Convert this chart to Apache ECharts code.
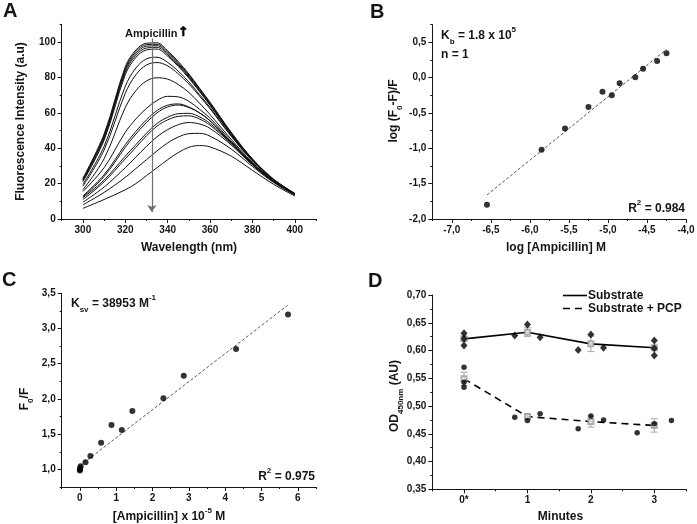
<!DOCTYPE html>
<html><head><meta charset="utf-8">
<script src="https://cdn.jsdelivr.net/npm/echarts@6/dist/echarts.min.js"></script>
<style>html,body{margin:0;padding:0;background:#fff}#c{width:697px;height:524px}</style>
</head><body><div id="c"></div>
<script>
// ---------- Panel A : fluorescence spectra ----------
const aWavelengths = [300,310,320,325,330,335,340,345,350,355,360,370,380,390,400];
const aSpectrum1  = [23,48,86,95.5,99.3,99.5,95,89,82,74,66,49,34,22.5,14.5];
const aSpectrum2  = [22.5,47,85,94.6,98.5,98.7,94.3,88.3,81.4,73.5,65.5,48.6,33.8,22.4,14.4];
const aSpectrum3  = [22,46.5,84,93.6,97.6,97.9,93.6,87.6,80.8,73,65,48.2,33.6,22.3,14.3];
const aSpectrum4  = [21.5,45.5,83,92.5,96.6,97,92.8,86.9,80.2,72.5,64.6,47.9,33.4,22.2,14.2];
const aSpectrum5  = [21,44.5,81.5,91.3,95.5,96,92,86.2,79.6,72,64.2,47.6,33.2,22.1,14.1];
const aSpectrum6  = [19.5,41,75,85.3,90.5,91.4,88.5,83.5,77.5,70.3,63,47,33,22,14.1];
const aSpectrum7  = [18.5,39,71,81.5,87,88.4,86.5,82,76.3,69.5,62.3,46.7,32.8,22,14.1];
const aSpectrum8  = [16.5,34,63,72.5,78,79.8,79,76,71.5,65.5,59,45,32,21.7,14];
const aSpectrum9  = [15.5,29,49,56.5,62.5,67,69.3,69,66.5,62,57,44,31.5,21.5,14.2];
const aSpectrum10 = [13,25,42,49.5,56,61.3,64.3,65,63.3,60,55.5,43.3,31.2,21.3,14];
const aSpectrum11 = [12.5,24,40.5,48,54.5,60,63.3,64.4,63,60,55.5,43.3,31.2,21.3,14];
const aSpectrum12 = [12,22,35.5,42,48.5,54,57.5,59.5,59.7,57.7,54,43,31,21.3,14];
const aSpectrum13 = [11,21,34,40.5,47,52.5,56,58,58.3,56.5,53,42.5,30.8,21.2,14];
const aSpectrum14 = [9.5,18,29,35,41,46.5,50.5,53.3,54.5,53.7,51.2,41.8,30.5,21,13.8];
const aSpectrum15 = [8,15,23.5,28.5,33.5,38.5,43,46.3,48.2,48.4,46.8,39.5,29.7,20.6,13.5];
const aSpectrum16 = [6,11,16.5,20,24.5,29,33.5,37.5,40.5,41.5,40.7,35.5,27.5,19.6,13];
const aSpectra = [aSpectrum1,aSpectrum2,aSpectrum3,aSpectrum4,aSpectrum5,aSpectrum6,aSpectrum7,aSpectrum8,
                  aSpectrum9,aSpectrum10,aSpectrum11,aSpectrum12,aSpectrum13,aSpectrum14,aSpectrum15,aSpectrum16];
const aArrowFrom = [332.5, 102];
const aArrowTo = [332.5, 4];
const aXTicks = [300,320,340,360,380,400];
const aXMinor = [290,310,330,350,370,390,410];
const aYTicks = [0,20,40,60,80,100];
const aYMinor = [10,30,50,70,90,110];

// ---------- Panel B : double log plot ----------
const bLogConc  = [-6.55,-5.85,-5.55,-5.25,-5.07,-4.95,-4.85,-4.65,-4.55,-4.37,-4.25];
const bLogRatio = [-1.80,-1.02,-0.72,-0.415,-0.20,-0.25,-0.08,0.005,0.125,0.235,0.345];
const bFitX = [-6.55,-4.25];
const bFitY = [-1.66,0.40];
const bXTicks = [-7,-6.5,-6,-5.5,-5,-4.5,-4];
const bXMinor = [-7.25,-6.75,-6.25,-5.75,-5.25,-4.75,-4.25];
const bYTicks = [-2,-1.5,-1,-0.5,0,0.5];
const bYMinor = [-1.75,-1.25,-0.75,-0.25,0.25,0.75];

// ---------- Panel C : Stern-Volmer ----------
const cConc  = [0,0.005,0.01,0.02,0.155,0.29,0.585,0.87,1.155,1.445,2.30,2.86,4.30,5.73];
const cRatio = [0.985,1.0,1.02,1.045,1.10,1.19,1.38,1.63,1.56,1.83,2.01,2.33,2.71,3.20];
const cFitX = [0,5.72];
const cFitY = [1.05,3.33];
const cXTicks = [0,1,2,3,4,5,6];
const cXMinor = [-0.5,0.5,1.5,2.5,3.5,4.5,5.5,6.5];
const cYTicks = [1,1.5,2,2.5,3,3.5];
const cYMinor = [0.75,1.25,1.75,2.25,2.75,3.25];

// ---------- Panel D : OD450 vs time ----------
const dSubX = [0,0,0,0.8,1,1.2,1.8,2,2.2,3,3,3];
const dSubY = [0.631,0.621,0.609,0.627,0.647,0.624,0.601,0.629,0.605,0.618,0.604,0.591];
const dPcpX = [0,0,0,0.8,1,1.2,1.8,2,2.2,2.73,3,3.27];
const dPcpY = [0.570,0.543,0.534,0.480,0.474,0.486,0.459,0.482,0.475,0.452,0.468,0.474];
const dMeanX = [0,1,2,3];
const dSubMean = [0.621,0.633,0.612,0.605];
const dSubErr = [0.004,0.008,0.014,0.004];
const dPcpMean = [0.549,0.481,0.472,0.465];
const dPcpErr = [0.012,0.005,0.010,0.012];
const dXTicks = [0,1,2,3];
const dXLabels = ['0*','1','2','3'];
const dXMinor = [-0.5,0.5,1.5,2.5,3.5];
const dYTicks = [0.35,0.40,0.45,0.50,0.55,0.60,0.65,0.70];
const dYMinor = [0.375,0.425,0.475,0.525,0.575,0.625,0.675];

// ---------- styling helpers ----------
const FONT = '"Liberation Sans", Arial, Helvetica, sans-serif';
const INK = '#151515';
const comma1 = v => (Math.round(v*10)/10).toFixed(1).replace('.', ',');
const comma2 = v => (Math.round(v*100)/100).toFixed(2).replace('.', ',');
const plain = v => String(v);

function axisPair(kind, gi, min, max, major, minor, fmt) {
  const pos = kind === 'x' ? 'bottom' : 'left';
  return [
    { type:'value', gridIndex:gi, position:pos, min, max,
      axisLine:{show:true, onZero:false, lineStyle:{color:INK, width:1}},
      axisTick:{show:true, customValues:major, length:4, lineStyle:{color:INK, width:1}},
      axisLabel:{show:true, customValues:major, formatter:fmt, fontSize:10, fontWeight:'bold',
                 color:INK, fontFamily:FONT, margin:6},
      splitLine:{show:false}, splitArea:{show:false} },
    { type:'value', gridIndex:gi, position:pos, min, max,
      axisLine:{show:false, onZero:false},
      axisTick:{show:true, customValues:minor, length:2, lineStyle:{color:INK, width:1}},
      axisLabel:{show:false}, splitLine:{show:false} }
  ];
}

const xAxes = [].concat(
  axisPair('x',0,290,410,aXTicks,aXMinor,plain),
  axisPair('x',1,-7.25,-4,bXTicks,bXMinor,comma1),
  axisPair('x',2,-0.5,6.5,cXTicks,cXMinor,plain),
  axisPair('x',3,-0.5,3.5,dXTicks,dXMinor,v => dXLabels[dXTicks.indexOf(v)])
);
const yAxes = [].concat(
  axisPair('y',0,0,110,aYTicks,aYMinor,plain),
  axisPair('y',1,-2,0.75,bYTicks,bYMinor,comma1),
  axisPair('y',2,0.75,3.5,cYTicks,cYMinor,comma1),
  axisPair('y',3,0.35,0.70,dYTicks,dYMinor,comma2)
);

const series = [];
// A spectra
aSpectra.forEach((s, i) => {
  const ser = { type:'line', xAxisIndex:0, yAxisIndex:0, silent:true, symbol:'none', smooth:0.35,
    lineStyle:{color:'#111', width:1}, data: aWavelengths.map((w, j) => [w, s[j]]), z:3 };
  if (i === 0) {
    ser.markLine = { silent:true, symbol:['none','arrow'], symbolSize:7, animation:false,
      lineStyle:{color:'#6e6e6e', width:1.2, type:'solid'}, label:{show:false},
      itemStyle:{color:'#6e6e6e'},
      data:[[{coord:aArrowFrom},{coord:aArrowTo}]] };
  }
  series.push(ser);
});
// B
series.push({ type:'line', xAxisIndex:2, yAxisIndex:2, symbol:'none', silent:true,
  lineStyle:{color:'#444', width:0.9, type:[3,2]}, data: bFitX.map((x,i)=>[x,bFitY[i]]) });
series.push({ type:'scatter', xAxisIndex:2, yAxisIndex:2, symbolSize:6, itemStyle:{color:'#000'},
  data: bLogConc.map((x,i)=>[x,bLogRatio[i]]), z:5 });
// C
series.push({ type:'line', xAxisIndex:4, yAxisIndex:4, symbol:'none', silent:true,
  lineStyle:{color:'#444', width:0.9, type:[3,2]}, data: cFitX.map((x,i)=>[x,cFitY[i]]) });
series.push({ type:'scatter', xAxisIndex:4, yAxisIndex:4, symbolSize:6, itemStyle:{color:'#000'},
  data: cConc.map((x,i)=>[x,cRatio[i]]), z:5 });
// D error bars
function errSeries(means, errs) {
  return { type:'custom', xAxisIndex:6, yAxisIndex:6, silent:true, z:2,
    data: dMeanX.map((x,i)=>[x, means[i], errs[i]]),
    encode:{x:0, y:1},
    renderItem:(params, api) => {
      const x = api.value(0), m = api.value(1), e = api.value(2);
      const t = api.coord([x, m + e]), b = api.coord([x, m - e]);
      const hw = 3.5, st = {stroke:'#a8a8a8', lineWidth:1};
      return { type:'group', children:[
        {type:'line', shape:{x1:t[0], y1:t[1], x2:b[0], y2:b[1]}, style:st},
        {type:'line', shape:{x1:t[0]-hw, y1:t[1], x2:t[0]+hw, y2:t[1]}, style:st},
        {type:'line', shape:{x1:b[0]-hw, y1:b[1], x2:b[0]+hw, y2:b[1]}, style:st}
      ]};
    } };
}
series.push(errSeries(dSubMean, dSubErr));
series.push(errSeries(dPcpMean, dPcpErr));
series.push({ type:'line', xAxisIndex:6, yAxisIndex:6, symbol:'none', silent:true, z:3,
  lineStyle:{color:'#000', width:1.6}, data: dMeanX.map((x,i)=>[x,dSubMean[i]]) });
series.push({ type:'line', xAxisIndex:6, yAxisIndex:6, symbol:'none', silent:true, z:3,
  lineStyle:{color:'#000', width:1.6, type:[7,5]}, data: dMeanX.map((x,i)=>[x,dPcpMean[i]]) });
series.push({ type:'scatter', xAxisIndex:6, yAxisIndex:6, symbol:'emptyRect', symbolSize:5, z:4,
  itemStyle:{color:'#999', borderWidth:1}, data: dMeanX.map((x,i)=>[x,dSubMean[i]]) });
series.push({ type:'scatter', xAxisIndex:6, yAxisIndex:6, symbol:'emptyRect', symbolSize:5, z:4,
  itemStyle:{color:'#999', borderWidth:1}, data: dMeanX.map((x,i)=>[x,dPcpMean[i]]) });
series.push({ type:'scatter', xAxisIndex:6, yAxisIndex:6, symbol:'diamond', symbolSize:[7,8], z:5,
  itemStyle:{color:'#000'}, data: dSubX.map((x,i)=>[x,dSubY[i]]) });
series.push({ type:'scatter', xAxisIndex:6, yAxisIndex:6, symbol:'circle', symbolSize:5.5, z:5,
  itemStyle:{color:'#000'}, data: dPcpX.map((x,i)=>[x,dPcpY[i]]) });

// ---------- texts ----------
const RICH = {
  sub:{fontSize:8, fontWeight:'bold', fontFamily:FONT, fill:INK, verticalAlign:'bottom', lineHeight:10},
  sup:{fontSize:8, fontWeight:'bold', fontFamily:FONT, fill:INK, verticalAlign:'top', lineHeight:10}
};
function T(text, x, y, o) {
  o = o || {};
  return { type:'text', x, y, rotation:o.rot || 0, silent:true, z:100,
    style:{ text, fill:INK, fontSize:o.size || 12, fontWeight:'bold', fontFamily:FONT,
      align:o.align || 'left', verticalAlign:'middle', lineHeight:o.lh || 20, rich:RICH } };
}
const R90 = Math.PI / 2;
const graphics = [
  T('A', 3, 11, {size:20, lh:22}), T('B', 370, 12.5, {size:20, lh:22}),
  T('C', 2, 280.5, {size:20, lh:22}), T('D', 368, 281.5, {size:20, lh:22}),
  // panel A
  T('Ampicillin', 125, 33.5, {size:11}),
  { type:'text', x:178, y:32.5, silent:true, z:100,
    style:{ text:'\u2191', fill:'#000', fontSize:13, fontWeight:'bold', fontFamily:'"DejaVu Sans", sans-serif',
      align:'left', verticalAlign:'middle', stroke:'#000', lineWidth:0.6 } },
  T('Wavelength (nm)', 189, 248, {align:'center'}),
  T('Fluorescence Intensity (a.u)', 20.5, 121.5, {align:'center', rot:R90}),
  // panel B
  T('K{sub|b} = 1.8 x 10{sup|5}', 441, 36, {}),
  T('n = 1', 441, 54.5, {}),
  T('R{sup|2} = 0.984', 685, 209, {align:'right'}),
  T('log [Ampicillin] M', 556, 248, {align:'center'}),
  T('log (F{sub|0}-F)/F', 394, 111, {align:'center', rot:R90}),
  // panel C
  T('K{sub|sv} = 38953 M{sup|-1}', 71, 304, {}),
  T('R{sup|2} = 0.975', 315, 477, {align:'right'}),
  T('[Ampicillin] x 10{sup|-5} M', 169, 516.5, {align:'center'}),
  T('F{sub|0}/F', 25, 399, {align:'center', rot:R90}),
  // panel D
  T('Substrate', 588, 295.5, {}),
  T('Substrate + PCP', 588, 308.5, {}),
  T('Minutes', 560.5, 516.5, {align:'center'}),
  T('OD{sub|450nm} (AU)', 394.5, 396, {align:'center', rot:R90}),
  { type:'line', silent:true, shape:{x1:563, y1:295.5, x2:587, y2:295.5}, style:{stroke:'#000', lineWidth:1.6} },
  { type:'line', silent:true, shape:{x1:563, y1:308.5, x2:587, y2:308.5}, style:{stroke:'#000', lineWidth:1.6, lineDash:[7,5]} }
];

const chart = echarts.init(document.getElementById('c'), null, {renderer:'canvas'});
chart.setOption({
  animation:false,
  backgroundColor:'#fff',
  grid:[
    {left:61.7, top:24.3, width:254.3, height:194.7, outerBoundsMode:'none'},
    {left:432.3, top:24.6, width:253.7, height:194.4, outerBoundsMode:'none'},
    {left:61.7, top:293.3, width:254.3, height:193.7, outerBoundsMode:'none'},
    {left:432.3, top:295, width:253.7, height:194.3, outerBoundsMode:'none'}
  ],
  xAxis:xAxes,
  yAxis:yAxes,
  series,
  graphic:graphics
});
</script>
</body></html>
